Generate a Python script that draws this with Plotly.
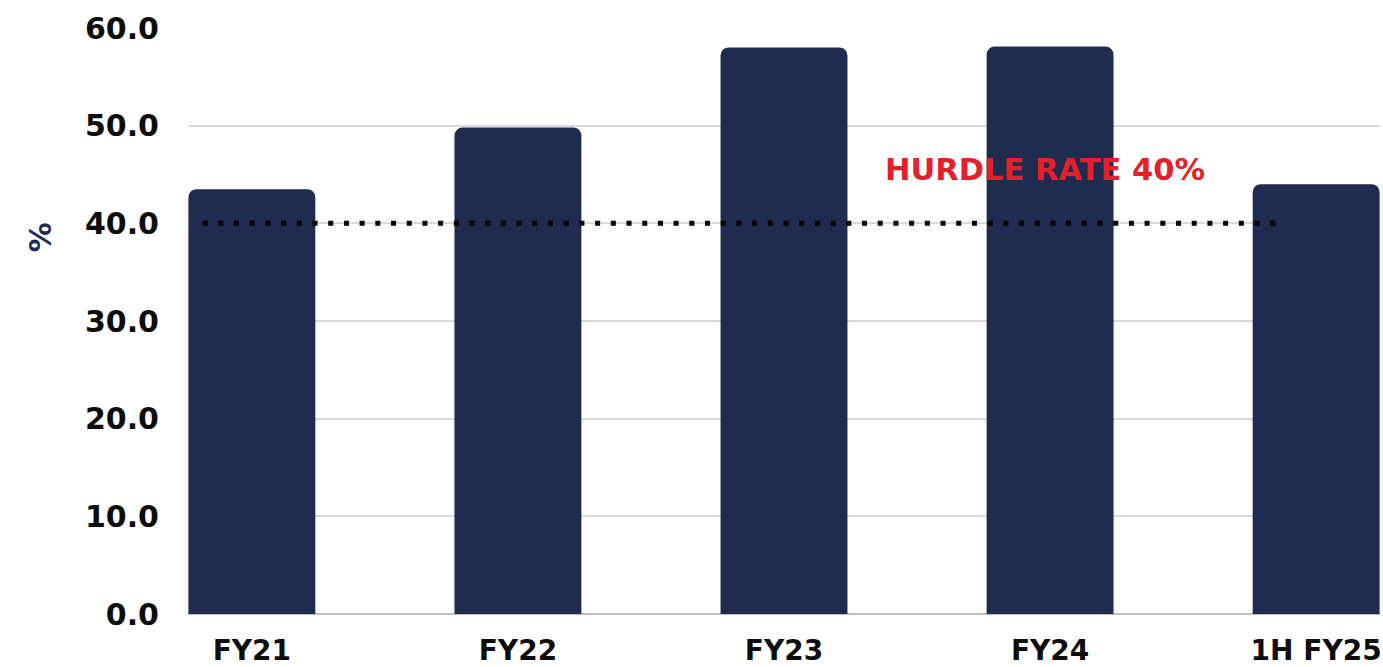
import plotly.graph_objects as go

# Return on capital by period, %
categories = ["FY21", "FY22", "FY23", "FY24", "1H FY25"]
values = [43.5, 49.8, 58.0, 58.1, 44.0]
hurdle_rate = 40.0
y_ticks = [0, 10, 20, 30, 40, 50, 60]
y_tick_labels = ["0.0", "10.0", "20.0", "30.0", "40.0", "50.0", "60.0"]

NAVY = "#1F2B4F"
RED = "#E4202A"
FONT = "DejaVu Sans"

fig = go.Figure()

fig.add_trace(go.Bar(
    x=list(range(len(categories))),
    y=values,
    marker=dict(color=NAVY, line=dict(width=0)),
    hoverinfo="skip",
))

# Hurdle-rate reference line (black square dots)
fig.add_shape(
    type="line",
    xref="x", yref="y",
    x0=-0.185, x1=3.855, y0=hurdle_rate, y1=hurdle_rate,
    line=dict(color="#000000", width=5, dash="5px,10.7px"),
    layer="above",
)

fig.add_annotation(
    xref="x", yref="y",
    x=2.372, y=45.5,
    xanchor="left", yanchor="middle",
    text=f"HURDLE RATE {hurdle_rate:.0f}%",
    showarrow=False,
    font=dict(family=FONT, size=30.5, color=RED, weight="bold"),
)

# Y axis title
fig.add_annotation(
    xref="paper", yref="paper",
    x=-0.1242, y=0.643,
    xanchor="center", yanchor="middle",
    text="%",
    textangle=-90,
    showarrow=False,
    font=dict(family=FONT, size=30, color=NAVY, weight="bold"),
)

fig.update_layout(
    width=1383, height=667,
    margin=dict(l=188, r=3, t=28, b=53, autoexpand=False),
    paper_bgcolor="white",
    plot_bgcolor="white",
    showlegend=False,
    bargap=0.523,
    barcornerradius=8,
    font=dict(family=FONT, color="#0D0D0D"),
)

fig.update_xaxes(
    range=[-0.24, 4.24],
    tickmode="array",
    tickvals=list(range(len(categories))),
    ticktext=categories,
    tickfont=dict(family=FONT, size=28, color="#0D0D0D", weight="bold"),
    ticklabeloverflow="allow",
    showgrid=False,
    zeroline=False,
    showline=False,
    automargin=False,
    ticks="outside", ticklen=11, tickcolor="rgba(0,0,0,0)",
)

fig.update_yaxes(
    range=[0, 60],
    tickmode="array",
    tickvals=y_ticks,
    ticktext=y_tick_labels,
    tickfont=dict(family=FONT, size=30, color="#0D0D0D", weight="bold"),
    showgrid=True, gridcolor="#D9D9D9", gridwidth=1.5,
    zeroline=True, zerolinecolor="#BFBFBF", zerolinewidth=2,
    showline=False,
    automargin=False,
    ticks="outside", ticklen=22, tickcolor="rgba(0,0,0,0)",
)

fig.write_html("out.html")
